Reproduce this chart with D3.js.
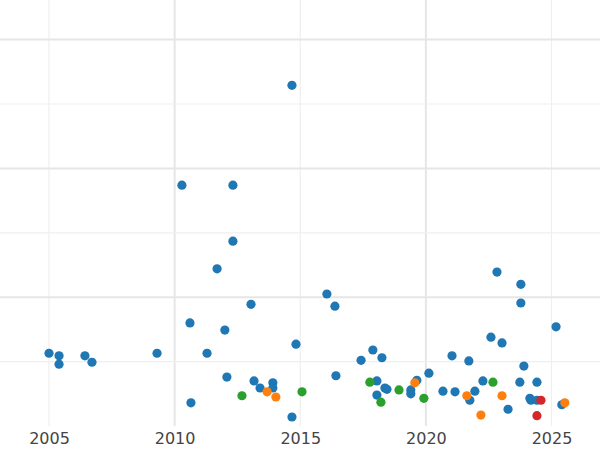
<!DOCTYPE html><html><head><meta charset="utf-8">
<script src="https://cdn.jsdelivr.net/npm/d3@7"></script>
<style>body{margin:0;background:#fff}svg{display:block}</style></head><body>
<script>
const xTicks=[2005,2010,2015,2020,2025];
const blueX=[2005.0,2005.4,2005.4,2006.43,2006.71,2009.30,2010.29,2010.61,2010.65,2011.29,2011.69,2012.0,2012.08,2012.32,2012.32,2013.04,2013.16,2013.40,2013.91,2013.91,2014.67,2014.67,2014.83,2016.06,2016.38,2016.42,2017.42,2017.89,2018.05,2018.05,2018.25,2018.37,2018.45,2019.40,2019.40,2019.64,2020.12,2020.68,2021.04,2021.16,2021.71,2021.75,2021.95,2022.27,2022.59,2022.83,2023.03,2023.27,2023.74,2023.78,2023.78,2023.90,2024.14,2024.18,2024.42,2024.42,2025.18,2025.41];
const blueY=[1.13,1.09,0.96,1.09,0.99,1.13,3.74,1.60,0.36,1.13,2.44,1.49,0.76,3.74,2.87,1.89,0.70,0.59,0.67,0.59,5.29,0.14,1.27,2.05,1.86,0.78,1.02,1.18,0.70,0.48,1.06,0.59,0.57,0.56,0.50,0.71,0.82,0.54,1.09,0.53,1.01,0.40,0.54,0.70,1.38,2.39,1.29,0.26,0.68,2.20,1.91,0.93,0.43,0.40,0.68,0.40,1.54,0.33];
const orangeX=[2013.68,2014.03,2019.56,2021.63,2022.19,2023.03,2025.53];
const orangeY=[0.53,0.45,0.67,0.47,0.17,0.47,0.36];
const greenX=[2012.68,2015.07,2017.77,2018.21,2018.93,2019.92,2022.67];
const greenY=[0.47,0.53,0.68,0.37,0.56,0.43,0.68];
const redX=[2024.58,2024.42];
const redY=[0.40,0.16];
const series=[[blueX,blueY,"#1f77b4"],[orangeX,orangeY,"#ff7f0e"],[greenX,greenY,"#2ca02c"],[redX,redY,"#d62728"]];
const W=600,H=450;
const x=d3.scaleLinear().domain([2003.05,2026.93]).range([0,600]);
const y=d3.scaleLinear().domain([0,6.615]).range([426,0]);
const svg=d3.select("body").append("svg").attr("width",W).attr("height",H);
const g=svg.append("g");
// minor vertical grid
g.selectAll("line.vmin").data(d3.range(2005,2027,5).map(d=>d)).enter().append("line")
 .attr("x1",d=>x(d)).attr("x2",d=>x(d)).attr("y1",0).attr("y2",426)
 .attr("stroke",d=>d%10===0?"#e6e6e6":"#efefef").attr("stroke-width",d=>d%10===0?2:1.2);
g.selectAll("line.h").data([1,2,3,4,5,6]).enter().append("line")
 .attr("x1",0).attr("x2",600).attr("y1",d=>y(d)).attr("y2",d=>y(d))
 .attr("stroke",d=>d%2===0?"#e6e6e6":"#efefef").attr("stroke-width",d=>d%2===0?2:1.2);
series.forEach(([xs,ys,c])=>{
 g.selectAll(null).data(xs.map((v,i)=>[v,ys[i]])).enter().append("circle")
  .attr("cx",d=>x(d[0])).attr("cy",d=>y(d[1])).attr("r",4.6).attr("fill",c);
});
const ax=svg.append("g").attr("transform","translate(0,426)").call(d3.axisBottom(x).tickValues(xTicks).tickFormat(d3.format("d")).tickSize(0).tickPadding(7));
ax.select(".domain").remove();
ax.selectAll("text").attr("font-family","DejaVu Sans").attr("font-size",16).attr("fill","#444");
</script></body></html>
